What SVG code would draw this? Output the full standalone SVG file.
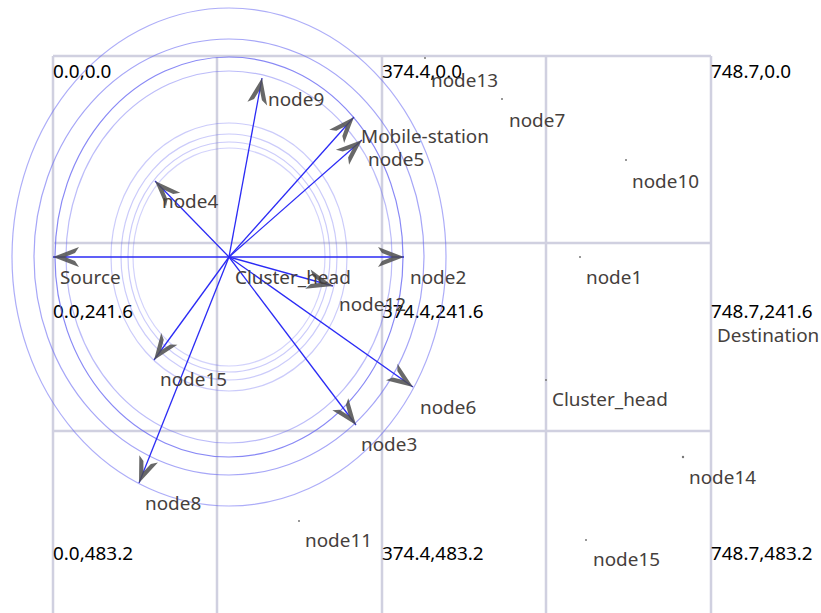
<svg xmlns="http://www.w3.org/2000/svg" width="821" height="613" viewBox="0 0 821 613">
<style>
.grid{stroke:#d0d0e0;stroke-width:2.5;fill:none}
.ring{fill:none;stroke:#6a6af2;stroke-width:1.2}
.lbl{font-family:"Noto Sans","DejaVu Sans",sans-serif;font-size:18.9px;fill:#45403c}
.crd{font-family:"Noto Sans","DejaVu Sans",sans-serif;font-size:18.9px;fill:#000}
.dot{fill:#777}
.arr{stroke:#2b2bf5;stroke-width:1.3;fill:none;marker-end:url(#ah)}
</style>
<defs>
<marker id="ah" markerUnits="userSpaceOnUse" orient="auto" viewBox="-30 -15 32 30" markerWidth="32" markerHeight="30" refX="0" refY="0" overflow="visible">
<path d="M0,0 L-26,-10 L-22,-4 L-12,0 L-22,4 L-26,10 Z" fill="#4e4e4e" fill-opacity="0.85"/>
</marker>
</defs>
<rect width="821" height="613" fill="#fff"/>
<g id="grid">
<line class="grid" x1="53" y1="56" x2="711" y2="56"/>
<line class="grid" x1="53" y1="243" x2="711" y2="243"/>
<line class="grid" x1="53" y1="431" x2="711" y2="431"/>
<line class="grid" x1="53" y1="56" x2="53" y2="613"/>
<line class="grid" x1="217" y1="56" x2="217" y2="613"/>
<line class="grid" x1="382" y1="56" x2="382" y2="613"/>
<line class="grid" x1="546" y1="56" x2="546" y2="613"/>
<line class="grid" x1="711" y1="56" x2="711" y2="613"/>
</g>
<g id="coords">
<text class="crd" x="53" y="78">0.0,0.0</text>
<text class="crd" x="382" y="78">374.4,0.0</text>
<text class="crd" x="711" y="78">748.7,0.0</text>
<text class="crd" x="53" y="318">0.0,241.6</text>
<text class="crd" x="382" y="318">374.4,241.6</text>
<text class="crd" x="711" y="318">748.7,241.6</text>
<text class="crd" x="53" y="560">0.0,483.2</text>
<text class="crd" x="382" y="560">374.4,483.2</text>
<text class="crd" x="711" y="560">748.7,483.2</text>
</g>
<g id="rings">
<ellipse class="ring" cx="229" cy="257" rx="217" ry="249" stroke-opacity="0.55"/>
<ellipse class="ring" cx="229" cy="257" rx="195" ry="218" stroke-opacity="0.6"/>
<ellipse class="ring" cx="229" cy="257" rx="174" ry="200" stroke-opacity="0.8"/>
<ellipse class="ring" cx="229" cy="257" rx="163" ry="186" stroke-opacity="0.45"/>
<ellipse class="ring" cx="229" cy="257" rx="118" ry="134" stroke-opacity="0.35"/>
<ellipse class="ring" cx="229" cy="257" rx="108" ry="123" stroke-opacity="0.35"/>
<ellipse class="ring" cx="229" cy="257" rx="101" ry="115" stroke-opacity="0.35"/>
<ellipse class="ring" cx="229" cy="257" rx="96" ry="109" stroke-opacity="0.3"/>
</g>
<g id="connectors">
<line class="arr" x1="229" y1="257" x2="53" y2="257"/>
<line class="arr" x1="229" y1="257" x2="404" y2="257"/>
<line class="arr" x1="229" y1="257" x2="262" y2="78"/>
<line class="arr" x1="229" y1="257" x2="354" y2="117"/>
<line class="arr" x1="229" y1="257" x2="362" y2="140"/>
<line class="arr" x1="229" y1="257" x2="155" y2="181"/>
<line class="arr" x1="229" y1="257" x2="333" y2="286"/>
<line class="arr" x1="229" y1="257" x2="413" y2="387"/>
<line class="arr" x1="229" y1="257" x2="356" y2="425"/>
<line class="arr" x1="229" y1="257" x2="154" y2="360"/>
<line class="arr" x1="229" y1="257" x2="139" y2="483"/>
</g>
<g id="source"><text class="lbl" x="60" y="284">Source</text></g>
<g id="cluster_head1"><text class="lbl" x="235" y="284">Cluster_head</text></g>
<g id="node2"><text class="lbl" x="410" y="284">node2</text></g>
<g id="node9"><text class="lbl" x="268" y="106">node9</text></g>
<g id="mobile-station"><text class="lbl" x="361" y="143">Mobile-station</text></g>
<g id="node5"><text class="lbl" x="368" y="166">node5</text></g>
<g id="node4"><text class="lbl" x="162" y="208">node4</text></g>
<g id="node12"><text class="lbl" x="339" y="311">node12</text></g>
<g id="node13"><circle class="dot" cx="425" cy="58" r="1"/><text class="lbl" x="431" y="87">node13</text></g>
<g id="node7"><circle class="dot" cx="502" cy="99" r="1"/><text class="lbl" x="509" y="127">node7</text></g>
<g id="node10"><circle class="dot" cx="626" cy="160" r="1"/><text class="lbl" x="632" y="188">node10</text></g>
<g id="node1"><circle class="dot" cx="580" cy="257" r="1"/><text class="lbl" x="586" y="284">node1</text></g>
<g id="node15a"><text class="lbl" x="160" y="386">node15</text></g>
<g id="node6"><text class="lbl" x="420" y="414">node6</text></g>
<g id="node3"><text class="lbl" x="361" y="451">node3</text></g>
<g id="cluster_head2"><circle class="dot" cx="546" cy="380" r="1"/><text class="lbl" x="552" y="406">Cluster_head</text></g>
<g id="destination"><text class="lbl" x="717" y="342">Destination</text></g>
<g id="node14"><circle class="dot" cx="683" cy="457" r="1.2"/><text class="lbl" x="689" y="484">node14</text></g>
<g id="node8"><text class="lbl" x="145" y="510">node8</text></g>
<g id="node11"><circle class="dot" cx="299" cy="521" r="1"/><text class="lbl" x="305" y="547">node11</text></g>
<g id="node15b"><circle class="dot" cx="586" cy="540" r="1"/><text class="lbl" x="593" y="566">node15</text></g>
</svg>
